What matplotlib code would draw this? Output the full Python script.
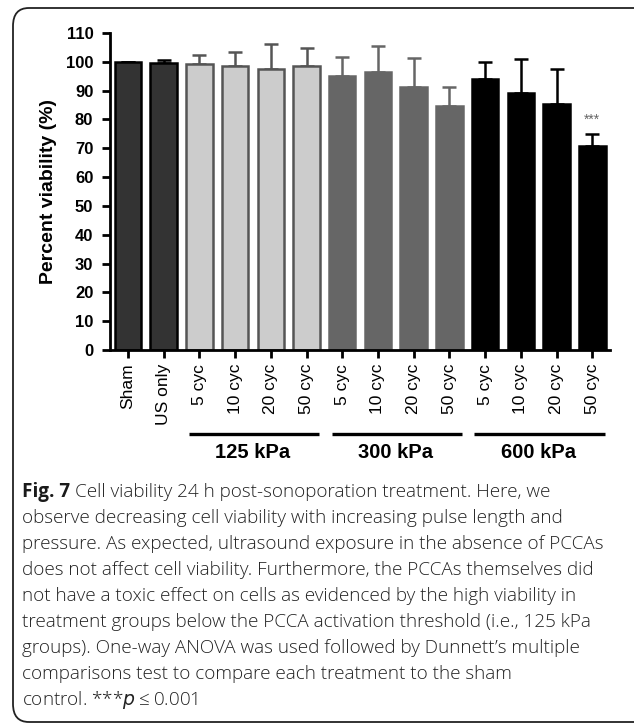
import numpy as np
import matplotlib.pyplot as plt
from matplotlib.patches import FancyBboxPatch
import matplotlib.transforms as mtransforms

plt.rcParams['font.family'] = ['Liberation Sans', 'DejaVu Sans']

labels = ['Sham', 'US only', '5 cyc', '10 cyc', '20 cyc', '50 cyc',
          '5 cyc', '10 cyc', '20 cyc', '50 cyc',
          '5 cyc', '10 cyc', '20 cyc', '50 cyc']
viability = [100.0, 99.5, 99.2, 98.4, 97.6, 98.7,
             95.1, 96.6, 91.2, 84.7,
             94.0, 89.3, 85.3, 70.8]
err_up = [0.0, 1.2, 3.2, 5.1, 8.6, 6.0,
          6.5, 9.0, 10.1, 6.7,
          6.1, 11.6, 12.1, 4.1]
groups = ['125 kPa', '300 kPa', '600 kPa']
group_idx = [(2, 5), (6, 9), (10, 13)]
signif = {13: '***'}

fills = ['#333333'] * 2 + ['#cccccc'] * 4 + ['#666666'] * 4 + ['#000000'] * 4
edges = ['#000000'] * 2 + ['#555555'] * 4 + ['#666666'] * 4 + ['#000000'] * 4

fig = plt.figure(figsize=(6.34, 7.24), dpi=100)
ax = fig.add_axes([0.1735, 0.5166, 0.789, 0.4378])

x = np.arange(len(labels))
for i in x:
    ax.errorbar(i, viability[i], yerr=[[0], [err_up[i]]], color=edges[i],
                capsize=4.7, elinewidth=1.8, capthick=1.8, zorder=1)
ax.bar(x, viability, width=0.74, color=fills, edgecolor=edges,
       linewidth=1.8, zorder=2)

for i, s in signif.items():
    ax.text(i, viability[i] + err_up[i] + 5, s, ha='center', va='center',
            fontsize=10, color='#666666')

ax.set_xlim(-0.5, 13.5)
ax.set_ylim(0, 110)
ax.set_yticks(np.arange(0, 111, 10))
ax.set_xticks(x)
ax.set_xticklabels(labels, rotation=90, fontsize=12.5)
for t in ax.get_yticklabels():
    t.set_fontweight('bold')
    t.set_fontsize(12)
ax.set_ylabel('Percent viability (%)', fontsize=14, fontweight='bold',
              labelpad=6)

for s in ['top', 'right']:
    ax.spines[s].set_visible(False)
for s in ['left', 'bottom']:
    ax.spines[s].set_linewidth(2)
ax.tick_params(axis='both', width=2, length=6, pad=4)
ax.tick_params(axis='y', pad=6)

trans = mtransforms.blended_transform_factory(ax.transData, ax.transAxes)
for g, (a, b) in zip(groups, group_idx):
    ax.plot([a - 0.3, b + 0.35], [-0.265, -0.265], color='black', lw=2.4,
            transform=trans, clip_on=False, solid_capstyle='butt')
    ax.text((a + b) / 2, -0.325, g, ha='center', va='center', fontsize=14.5,
            fontweight='bold', transform=trans)

# rounded frame
box = FancyBboxPatch((13 / 634, 2 / 724), 640 / 634, 714 / 724,
                     boxstyle='round,pad=0,rounding_size=0.025',
                     transform=fig.transFigure, fill=False,
                     edgecolor='#222222', linewidth=1.3, clip_on=False)
fig.patches.append(box)

caption = [
    'Cell viability 24 h post-sonoporation treatment. Here, we',
    'observe decreasing cell viability with increasing pulse length and',
    'pressure. As expected, ultrasound exposure in the absence of PCCAs',
    'does not affect cell viability. Furthermore, the PCCAs themselves did',
    'not have a toxic effect on cells as evidenced by the high viability in',
    'treatment groups below the PCCA activation threshold (i.e., 125 kPa',
    'groups). One-way ANOVA was used followed by Dunnett\u2019s multiple',
    'comparisons test to compare each treatment to the sham',
    'control. ***$p$\u2009\u2264\u20090.001',
]
cap_font = ['Open Sans', 'DejaVu Sans']
x0 = 22 / 634
y0 = 492
dy = 26
renderer = fig.canvas.get_renderer()
head = fig.text(x0, 1 - y0 / 724, 'Fig. 7', fontsize=13.6, fontweight='bold',
                family=cap_font, va='center', color='#1a1a1a')
bb = head.get_window_extent(renderer=renderer)
for k, line in enumerate(caption):
    xx = x0
    if k == 0:
        xx = (bb.x1 + 5) / fig.bbox.width
    fig.text(xx, 1 - (y0 + k * dy) / 724, line, fontsize=13.6, family=cap_font,
             fontweight='light', va='center', color='#222222')

fig.savefig('out.png', dpi=100)
